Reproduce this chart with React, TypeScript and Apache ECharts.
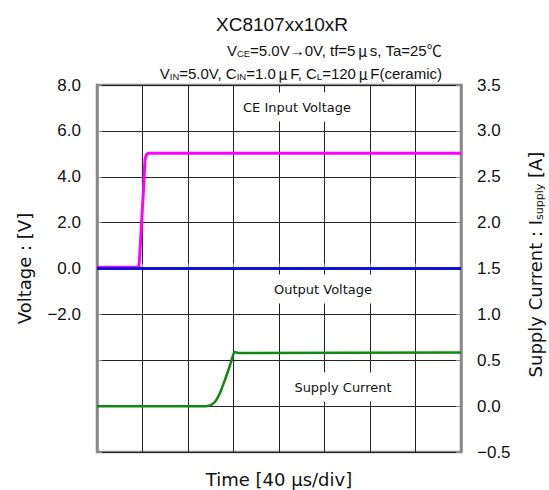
import React, { useEffect, useRef } from "react";
import * as echarts from "echarts";

const ceTime = [0, 0.92, 0.94, 0.98, 1.02, 1.055, 1.09, 1.13, 8];
const ceVolt = [0.05, 0.05, 0.6, 2.0, 3.4, 4.75, 4.98, 5.02, 5.02];
const outTime = [0, 2, 4, 6, 8];
const outVolt = [0, 0, 0, 0, 0];
const curTime = [0, 2.4, 2.5, 2.6, 2.7, 2.8, 2.9, 3.0, 3.02, 3.1, 8];
const curAmp = [0, 0, 0.01, 0.05, 0.14, 0.27, 0.41, 0.57, 0.59, 0.58, 0.585];

const FONT = "Liberation Sans, Arial, Noto Sans CJK JP, sans-serif";
const WIDE = "DejaVu Sans, Noto Sans CJK JP, sans-serif";
const CJK = "Noto Sans CJK JP, sans-serif";

const fmt = (v: number) => (v < 0 ? "\u2212" + Math.abs(v).toFixed(1) : v.toFixed(1));

export default function App() {
  const ref = useRef<HTMLDivElement>(null);
  useEffect(() => {
    const chart = echarts.init(ref.current!, null, { renderer: "svg" });
    const zip = (a: number[], b: number[]) => a.map((t, i) => [t, b[i]]);
    const nrm = { fontSize: 15, fontFamily: FONT, color: "#111", fontWeight: "normal" };
    const sub = { fontSize: 9.5, fontFamily: FONT, color: "#111", fontWeight: "normal", padding: [7, 0, 0, 0] };
    const mu = { fontSize: 15, fontFamily: CJK, color: "#111", fontWeight: "normal", padding: [0, 2.5, 0, 2.5] };
    const boxLabel = (text: string, x: number, y: number) => ({
      type: "text",
      x,
      y,
      z: 10,
      style: {
        text,
        fontSize: 13,
        fontFamily: WIDE,
        fill: "#111",
        align: "center",
        verticalAlign: "middle",
        backgroundColor: "#fff",
        padding: [8, 6],
      },
    });
    chart.setOption({
      animation: false,
      backgroundColor: "#fff",
      title: [
        {
          text: "XC8107xx10xR",
          left: 277,
          top: 10,
          textAlign: "center",
          textStyle: { fontSize: 19, fontWeight: "normal", color: "#111", fontFamily: FONT },
        },
        {
          text: "{n|V}{s|CE}{n|=5.0V\u21920V, tf=5}{m|\u03bc}{n|s, Ta=25\u2103}",
          right: 102,
          top: 37,
          textStyle: { fontWeight: "normal", rich: { n: nrm, s: sub, m: mu } },
        },
        {
          text: "{n|V}{s|IN}{n|=5.0V, C}{s|IN}{n|=1.0}{m|\u03bc}{n|F, C}{s|L}{n|=120}{m|\u03bc}{n|F(ceramic)}",
          right: 102,
          top: 60,
          textStyle: { fontWeight: "normal", rich: { n: nrm, s: sub, m: mu } },
        },
      ],
      grid: {
        left: 97,
        right: 88,
        top: 85,
        bottom: 38,
        show: true,
        borderColor: "#888",
        borderWidth: 2.5,
        outerBoundsMode: "none",
        containLabel: false,
      },
      xAxis: {
        type: "value",
        min: 0,
        max: 8,
        interval: 1,
        name: "Time [40 \u03bcs/div]",
        nameLocation: "middle",
        nameGap: 18,
        nameTextStyle: { fontSize: 18, color: "#111", fontFamily: WIDE },
        axisLine: { show: true, lineStyle: { color: "#888", width: 2.5 } },
        axisTick: { show: true, inside: true, length: 5, lineStyle: { color: "#888" } },
        axisLabel: { show: false },
        splitLine: { show: true, lineStyle: { color: "#222", width: 1 } },
      },
      yAxis: [
        {
          type: "value",
          min: -8,
          max: 8,
          interval: 2,
          position: "left",
          name: "Voltage : [V]",
          nameLocation: "middle",
          nameGap: 64,
          nameTextStyle: { fontSize: 18, color: "#111", fontFamily: WIDE },
          axisLine: { show: true, lineStyle: { color: "#888", width: 2.5 } },
          axisTick: { show: true, inside: true, length: 5, lineStyle: { color: "#888" } },
          axisLabel: {
            fontSize: 17,
            color: "#111",
            fontFamily: FONT,
            margin: 16,
            formatter: (v: number) => (v < -2 ? "" : fmt(v)),
          },
          splitLine: { show: true, lineStyle: { color: "#222", width: 1 } },
        },
        {
          type: "value",
          min: -0.5,
          max: 3.5,
          interval: 0.5,
          position: "right",
          name: "{n|Supply Current : I}{s|supply}{n| [A]}",
          nameLocation: "middle",
          nameGap: 65,
          nameTextStyle: {
            padding: [0, 0, 0, 8],
            rich: {
              n: { fontSize: 18, color: "#111", fontFamily: WIDE },
              s: { fontSize: 11, color: "#111", fontFamily: WIDE, padding: [8, 0, 0, 0] },
            },
          },
          axisLine: { show: true, lineStyle: { color: "#888", width: 2.5 } },
          axisTick: { show: true, inside: true, length: 5, lineStyle: { color: "#888" } },
          axisLabel: {
            fontSize: 17,
            color: "#111",
            fontFamily: FONT,
            margin: 16,
            formatter: (v: number) => fmt(v),
          },
          splitLine: { show: false },
        },
      ],
      graphic: [
        boxLabel("CE Input Voltage", 297, 107),
        boxLabel("Output Voltage", 323, 289),
        boxLabel("Supply Current", 343, 387),
      ],
      series: [
        {
          name: "CE Input Voltage",
          type: "line",
          yAxisIndex: 0,
          data: zip(ceTime, ceVolt),
          showSymbol: false,
          lineStyle: { color: "#ff00ff", width: 3 },
          z: 5,
        },
        {
          name: "Output Voltage",
          type: "line",
          yAxisIndex: 0,
          data: zip(outTime, outVolt),
          showSymbol: false,
          lineStyle: { color: "#1010d8", width: 3 },
          z: 6,
        },
        {
          name: "Supply Current",
          type: "line",
          yAxisIndex: 1,
          data: zip(curTime, curAmp),
          showSymbol: false,
          smooth: 0.2,
          lineStyle: { color: "#118811", width: 2.5 },
          z: 5,
        },
      ],
    });
    return () => chart.dispose();
  }, []);
  return (
    <div
      ref={ref}
      style={{ position: "fixed", left: 0, top: 0, width: 549, height: 490, background: "#fff" }}
    />
  );
}
